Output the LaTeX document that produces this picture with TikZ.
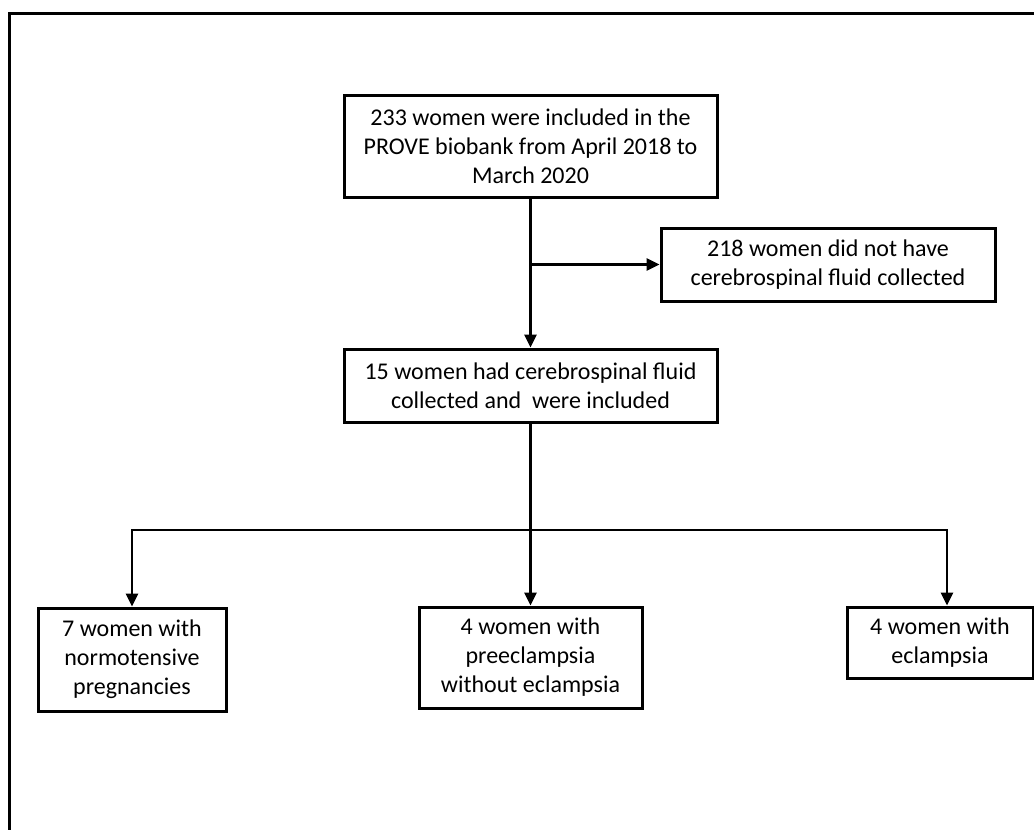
\documentclass[tikz,border=0pt]{standalone}
\usepackage{fontspec}
\setmainfont{Carlito}
\usetikzlibrary{arrows.meta}
\tikzset{
	every path/.style={line width=1.45pt},
	align=center,
	box/.style={
		draw,
		rectangle,
		line width=1.5pt,
		inner sep=0pt,
		font=\fontsize{12}{14.5}\selectfont,
	},
	flow/.style={
		-{Triangle[width=6pt,length=6.5pt]}
	},
	frame/.style={
		line width=1.5pt,
	},
}

\begin{document}
\begin{tikzpicture}[x=0.5pt,y=-0.5pt]
		\useasboundingbox (0,0) rectangle (1034,830);
		\draw[frame] (9.5,830) -- (9.5,13.5) -- (1034,13.5);

		\node[box, minimum width=186.5pt, minimum height=51pt]   (incl) at (530.5,146) {233 women were included in the\\PROVE biobank from April 2018 to\\March 2020};
		\node[box, minimum width=167pt, minimum height=36.5pt]   (excl) at (828,264.5) {218 women did not have\\cerebrospinal fluid collected};
		\node[box, minimum width=186.5pt, minimum height=36.5pt] (csf) at (530.5,385.5) {15 women had cerebrospinal fluid\\collected and\ \ were included};

		\node[box, minimum width=94pt, minimum height=51.5pt]    (normo) at (132,659.5) {7 women with\\normotensive\\pregnancies};
		\node[box, minimum width=111.5pt, minimum height=50.5pt] (preecl) at (530.5,657.5) {4 women with\\preeclampsia\\without eclampsia};
		\node[box, minimum width=93pt, minimum height=35.5pt]    (eclam) at (940,642.5) {4 women with\\eclampsia};

		\coordinate (split) at (530.5,530);
		\coordinate (drop) at (947,530);

		\draw[flow] (incl) -- (csf);
		\draw[flow] (excl.west -| incl.south) -- (excl.west);

		\draw[flow] (csf) -- (preecl);
		\draw[flow] (split) -| (normo);
		\draw[flow] (split) -| (drop |- eclam.north);

	\end{tikzpicture}
\end{document}
